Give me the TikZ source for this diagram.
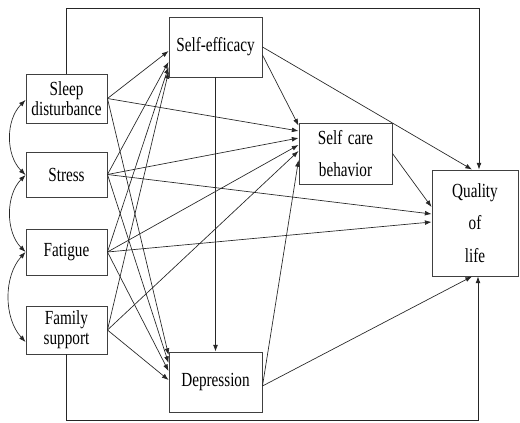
\documentclass[tikz,border=0pt]{standalone}
\usepackage{fontspec}
\setmainfont{Liberation Serif}[FakeStretch=0.76]
\usetikzlibrary{arrows.meta,calc}
\begin{document}
\begin{tikzpicture}[x=0.75pt,y=-0.75pt,
  box/.style={draw=black!75,line width=0.7pt,inner sep=0pt,align=center,font=\fontsize{15}{15}\selectfont},
  tallbox/.style={box,font=\fontsize{15}{24.5}\selectfont},
  arr/.style={-{Latex[length=5pt,width=3.6pt]},line width=0.5pt,draw=black!85},
  cor/.style={{Latex[length=5pt,width=3.6pt]}-{Latex[length=5pt,width=3.6pt]},line width=0.5pt,draw=black!85}]
\useasboundingbox (0,0) rectangle (520,423);
\fill[white] (0,0) rectangle (520,423);
% nodes
\node[box,minimum width=60.75pt,minimum height=36.75pt] (sleep) at (66.5,98.5) {Sleep\\disturbance};
\node[box,minimum width=60.75pt,minimum height=33.75pt] (stress) at (66.5,174.5) {Stress};
\node[box,minimum width=60.75pt,minimum height=34.5pt] (fatigue) at (66.5,252) {Fatigue};
\node[box,minimum width=60.75pt,minimum height=36pt] (family) at (66.5,330) {Family\\support};
\node[box,minimum width=69.75pt,minimum height=45pt] (se) at (215.5,47) {Self-efficacy};
\node[tallbox,minimum width=69.75pt,minimum height=45.75pt] (sc) at (345.5,153.5) {Self\hspace{4pt}care\\behavior};
\node[tallbox,minimum width=64.5pt,minimum height=79.5pt] (qol) at (475,223) {Quality\\of\\life};
\node[box,minimum width=69.75pt,minimum height=45pt] (dep) at (215.5,382) {Depression};
\coordinate (topy) at (0,8);
\coordinate (boty) at (0,420);
% correlations
\draw[cor] ([yshift=-1.1pt]sleep.west) .. controls +(-20,20) and +(-20,-20) .. ([yshift=-0.4pt]stress.west);
\draw[cor] ([yshift=-0.4pt]stress.west) .. controls +(-20,20) and +(-20,-20) .. (fatigue.west);
\draw[cor] (fatigue.west) .. controls +(-22,24) and +(-22,-24) .. ([yshift=-9pt]family.west);
% paths
\draw[arr] (sleep.east) -- ([yshift=-3pt]se.west);
\draw[arr] (sleep.east) -- ([yshift=16.9pt]sc.west);
\draw[arr] (sleep.east) -- ([yshift=20.25pt]dep.west);
\draw[arr] (stress.east) -- ([yshift=-11.25pt]se.west);
\draw[arr] (stress.east) -- ([yshift=11.6pt]sc.west);
\draw[arr] (stress.east) -- ([yshift=6.75pt]qol.west);
\draw[arr] (stress.east) -- ([yshift=14.25pt]dep.west);
\draw[arr] (fatigue.east) -- ([yshift=-15pt]se.west);
\draw[arr] (fatigue.east) -- ([yshift=6.4pt]sc.west);
\draw[arr] (fatigue.east) -- ([yshift=0.75pt]qol.west);
\draw[arr] (fatigue.east) -- ([yshift=8.25pt]dep.west);
\draw[arr] (family.east) -- ([yshift=-18.75pt]se.west);
\draw[arr] (family.east) -- ([yshift=1.9pt]sc.west);
\draw[arr] (family.east) -- ([yshift=1.5pt]dep.west);
\draw[arr] (se.east) -- ([xshift=-2.25pt]qol.north);
\draw[arr] ([yshift=-6pt]se.east) -- ([yshift=21pt]sc.west);
\draw[arr] (se.south) -- (dep.north);
\draw[arr] (sc.east) -- ([yshift=12pt]qol.west);
\draw[arr] ([yshift=-3pt]dep.east) -- ([yshift=-4.9pt]sc.west);
\draw[arr] ([yshift=-3pt]dep.east) -- ([xshift=-2.25pt]qol.south);
\draw[arr] (sleep.north) -- (sleep.north |- topy) -| ([xshift=3pt]qol.north);
\draw[arr] (family.south) -- (family.south |- boty) -| ([xshift=2.25pt]qol.south);
\end{tikzpicture}
\end{document}
